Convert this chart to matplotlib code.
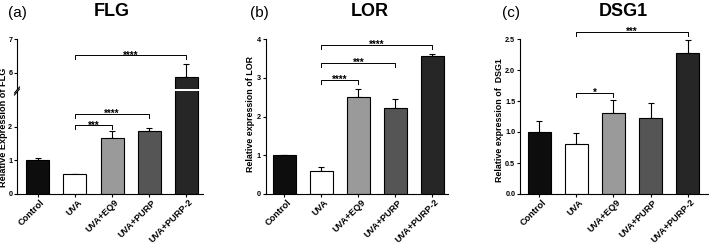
import matplotlib
matplotlib.use("Agg")
import matplotlib.pyplot as plt
from matplotlib.lines import Line2D
from matplotlib.transforms import ScaledTranslation

plt.rcParams['font.family'] = ['Liberation Sans', 'DejaVu Sans']
plt.rcParams['font.weight'] = 'bold'

categories = ["Control", "UVA", "UVA+EQ9", "UVA+PURP", "UVA+PURP-2"]
bar_colors = ["#0d0d0d", "#ffffff", "#9a9a9a", "#555555", "#262626"]

flg_vals = [1.0, 0.58, 1.67, 1.88, 5.88]
flg_err = [0.07, 0.02, 0.20, 0.07, 0.37]
lor_vals = [1.0, 0.60, 2.50, 2.23, 3.55]
lor_err = [0.01, 0.09, 0.20, 0.23, 0.06]
dsg_vals = [1.0, 0.80, 1.30, 1.22, 2.28]
dsg_err = [0.18, 0.18, 0.21, 0.25, 0.20]

# brackets: (start index, end index, height, label)
flg_brackets = [(1, 2, 2.04, "***"), (1, 3, 2.37, "****"), (1, 4, 6.52, "****")]
lor_brackets = [(1, 2, 2.94, "****"), (1, 3, 3.38, "***"), (1, 4, 3.85, "****")]
dsg_brackets = [(1, 2, 1.63, "*"), (1, 4, 2.62, "***")]

W, H = 709, 247
fig = plt.figure(figsize=(W / 100, H / 100), dpi=100)


def ax_rect(x0, x1, ytop, ybot):
    return [x0 / W, 1 - ybot / H, (x1 - x0) / W, (ybot - ytop) / H]


x = list(range(len(categories)))
BW = 0.62
LW = 0.8


def style(ax, bottom=True):
    for s in ["top", "right"]:
        ax.spines[s].set_visible(False)
    ax.spines["left"].set_linewidth(LW)
    ax.spines["bottom"].set_linewidth(LW)
    ax.tick_params(axis="y", labelsize=5.2, width=LW, length=2.2, pad=1.2)
    ax.tick_params(axis="x", width=LW, length=2.2, pad=1)
    for lab in ax.get_yticklabels():
        lab.set_fontweight("bold")
    if not bottom:
        ax.spines["bottom"].set_visible(False)
        ax.tick_params(axis="x", bottom=False, labelbottom=False)


def draw_bars(ax, vals, err):
    ax.bar(x, vals, width=BW, color=bar_colors, edgecolor="black", linewidth=LW, zorder=2)
    ax.errorbar(x, vals, yerr=[[0] * len(vals), err], fmt="none", ecolor="black",
                elinewidth=LW, capsize=2, capthick=LW, zorder=1)


def bracket(ax, i, j, h, label, tick):
    ax.plot([x[i], x[i], x[j], x[j]], [h - tick, h, h, h - tick], color="black",
            lw=0.7, clip_on=False)
    ax.annotate(label, xy=((x[i] + x[j]) / 2, h), xytext=(0, -2.3),
                textcoords="offset points", ha="center", va="baseline",
                fontsize=7, fontweight="bold", annotation_clip=False)


def xlabels(ax):
    ax.set_xticks(x)
    ax.set_xticklabels(categories, rotation=45, ha="right", va="center",
                       rotation_mode="anchor", fontsize=6.6, fontweight="bold")
    off = ScaledTranslation(5.5 / 100, -2.5 / 100, fig.dpi_scale_trans)
    for lab in ax.get_xticklabels():
        lab.set_transform(lab.get_transform() + off)


# ---------- Panel (a) FLG (broken axis) ----------
axa_lo = fig.add_axes(ax_rect(17, 203, 91, 194))
axa_hi = fig.add_axes(ax_rect(17, 203, 39, 89))
for ax in (axa_lo, axa_hi):
    draw_bars(ax, flg_vals, flg_err)
    ax.set_xlim(-0.56, 4.45)
axa_lo.set_ylim(0, 103 / 33.7)
axa_hi.set_ylim(7 - 50 / 33.7, 7)
axa_lo.set_yticks([0, 1, 2])
axa_hi.set_yticks([6, 7])
style(axa_lo)
style(axa_hi, bottom=False)
xlabels(axa_lo)
for i, j, h, lab in flg_brackets:
    if h > 5:
        bracket(axa_hi, i, j, h, lab, 0.12)
    else:
        bracket(axa_lo, i, j, h, lab, 0.12)
# break mark on axis
fig.add_artist(Line2D([14.5 / W, 19.5 / W], [1 - 93 / H, 1 - 87 / H], color="black", lw=0.8))
fig.add_artist(Line2D([14.5 / W, 19.5 / W], [1 - 95 / H, 1 - 89 / H], color="black", lw=0.8))
fig.text(4 / W, 1 - 127 / H, "Relative Expression of FLG", rotation=90, ha="center",
         va="center", fontsize=6.6, fontweight="bold")

# ---------- Panel (b) LOR ----------
axb = fig.add_axes(ax_rect(265.7, 448, 39, 194))
draw_bars(axb, lor_vals, lor_err)
axb.set_xlim(-0.5, 4.42)
axb.set_ylim(0, 4)
axb.set_yticks([0, 1, 2, 3, 4])
style(axb)
xlabels(axb)
for i, j, h, lab in lor_brackets:
    bracket(axb, i, j, h, lab, 0.1)
fig.text(250.7 / W, 1 - 114 / H, "Relative expression of LOR", rotation=90, ha="center",
         va="center", fontsize=6.4, fontweight="bold")

# ---------- Panel (c) DSG1 ----------
axc = fig.add_axes(ax_rect(520, 708, 39, 194))
draw_bars(axc, dsg_vals, dsg_err)
axc.set_xlim(-0.52, 4.55)
axc.set_ylim(0, 2.5)
axc.set_yticks([0.0, 0.5, 1.0, 1.5, 2.0, 2.5])
axc.set_yticklabels(["0.0", "0.5", "1.0", "1.5", "2.0", "2.5"])
style(axc)
xlabels(axc)
for i, j, h, lab in dsg_brackets:
    bracket(axc, i, j, h, lab, 0.07)
fig.text(500 / W, 1 - 120 / H, "Relative expression of  DSG1", rotation=90, ha="center",
         va="center", fontsize=6.4, fontweight="bold")

# ---------- Titles ----------
for px, lab in [(8, "(a)"), (250, "(b)"), (502, "(c)")]:
    fig.text(px / W, 1 - 13 / H, lab, ha="left", va="center", fontsize=11, fontweight="normal")
for px, lab in [(112, "FLG"), (370, "LOR"), (623, "DSG1")]:
    fig.text(px / W, 1 - 11 / H, lab, ha="center", va="center", fontsize=13, fontweight="bold")

fig.savefig("out.png", dpi=100)
